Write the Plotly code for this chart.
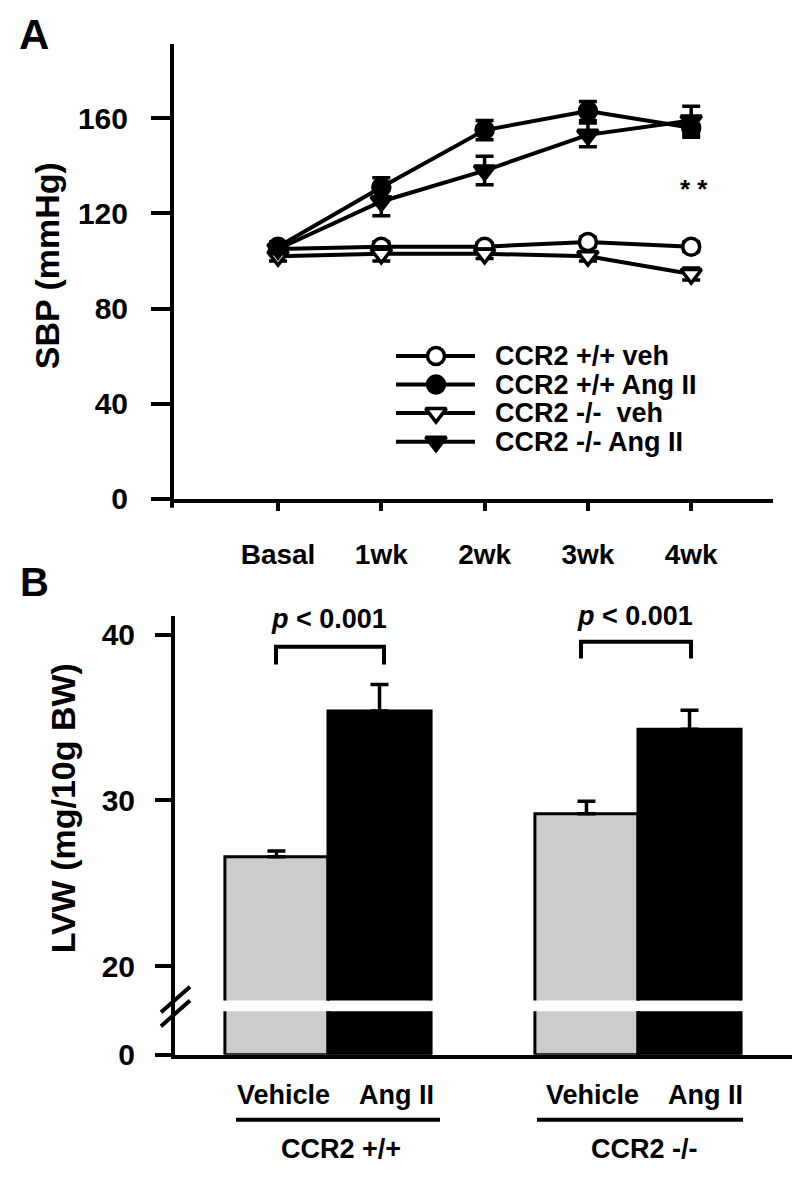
import plotly.graph_objects as go

W, H = 800, 1183
FONT = "Liberation Sans, Arial, Helvetica, sans-serif"

# ---------------- data: panel A (SBP, mmHg) ----------------
timepoints = ["Basal", "1wk", "2wk", "3wk", "4wk"]
series_names = ["CCR2 +/+ veh", "CCR2 +/+ Ang II", "CCR2 -/-  veh", "CCR2 -/- Ang II"]
sbp_wt_veh = [105, 106, 106, 108, 106]
sbp_wt_veh_err = [2, 2, 1.5, 2, 2]
sbp_wt_ang = [106, 131, 155, 163, 156]
sbp_wt_ang_err = [2, 4, 4, 4, 4]
sbp_ko_veh = [102, 103, 103, 102, 94.5]
sbp_ko_veh_err = [2, 3, 2, 2, 2.5]
sbp_ko_ang = [105, 125, 138, 153, 159]
sbp_ko_ang_err = [2, 6, 6, 5, 6]
sbp_ticks = [0, 40, 80, 120, 160]

# ---------------- data: panel B (LVW, mg/10g BW) ----------------
genotypes = ["CCR2 +/+", "CCR2 -/-"]
treatments = ["Vehicle", "Ang II"]
lvw_vehicle = [26.6, 29.2]
lvw_vehicle_err = [0.35, 0.75]
lvw_angii = [35.4, 34.3]
lvw_angii_err = [1.6, 1.15]
lvw_ticks = [20, 30, 40]
p_labels = ["p < 0.001", "p < 0.001"]


def fx(px):
    return px / W


def fy(py):
    return 1 - py / H


BOLD = dict(family=FONT, color="black", weight="bold")
fig = go.Figure()

# ---------------- panel A traces ----------------
styles = [
    dict(symbol="circle", color="white", size=17),
    dict(symbol="circle", color="black", size=17),
    dict(symbol="triangle-down", color="white", size=18),
    dict(symbol="triangle-down", color="black", size=18),
]
vals = [sbp_wt_veh, sbp_wt_ang, sbp_ko_veh, sbp_ko_ang]
errs = [sbp_wt_veh_err, sbp_wt_ang_err, sbp_ko_veh_err, sbp_ko_ang_err]
for name, v, e, st in zip(series_names, vals, errs, styles):
    fig.add_trace(go.Scatter(
        x=timepoints, y=v, name=name, mode="lines+markers",
        line=dict(color="black", width=4),
        marker=dict(symbol=st["symbol"], color=st["color"], size=st["size"],
                    line=dict(color="black", width=3.5)),
        error_y=dict(type="data", array=e, color="black", thickness=3.5, width=9),
        xaxis="x", yaxis="y", showlegend=False, cliponaxis=False,
    ))

# manual legend (pixel overlay axis)
legend_rows = [353, 382, 411, 440]
for name, st, ry in zip(series_names, styles, legend_rows):
    fig.add_trace(go.Scatter(
        x=[388, 467], y=[ry, ry], mode="lines", line=dict(color="black", width=4),
        xaxis="x4", yaxis="y4", showlegend=False, hoverinfo="skip"))
    fig.add_trace(go.Scatter(
        x=[428], y=[ry], mode="markers",
        marker=dict(symbol=st["symbol"], color=st["color"], size=st["size"],
                    line=dict(color="black", width=3.5)),
        xaxis="x4", yaxis="y4", showlegend=False, hoverinfo="skip"))

# ---------------- panel B traces ----------------
bar_colors = ["#cccccc", "black"]
bar_vals = [lvw_vehicle, lvw_angii]
bar_errs = [lvw_vehicle_err, lvw_angii_err]
for tname, col, v, e in zip(treatments, bar_colors, bar_vals, bar_errs):
    for xa, ya, with_err in (("x2", "y2", True), ("x3", "y3", False)):
        fig.add_trace(go.Bar(
            x=genotypes, y=v, name=tname, offsetgroup=tname,
            marker=dict(color=col, line=dict(color="black", width=3)),
            error_y=dict(type="data", array=e, arrayminus=[0] * len(e), symmetric=False,
                         color="black", thickness=3.5, width=9, visible=with_err),
            xaxis=xa, yaxis=ya, showlegend=False,
        ))

axis_common = dict(showgrid=False, zeroline=False, linecolor="black", linewidth=4,
                   tickcolor="black", tickwidth=4, mirror=False)

fig.update_layout(
    width=W, height=H,
    margin=dict(l=0, r=0, t=0, b=0),
    paper_bgcolor="white", plot_bgcolor="rgba(0,0,0,0)",
    font=BOLD,
    barmode="group", bargap=0.335, bargroupgap=0,
    xaxis=dict(domain=[fx(166), fx(765)], anchor="y", type="category",
               range=[-1.007, 4.792], showline=True, ticks="outside", ticklen=8,
               tickfont=dict(size=28, **BOLD), ticklabelstandoff=20, **axis_common),
    yaxis=dict(domain=[fy(498), fy(37)], anchor="x", range=[0, 191],
               tickvals=sbp_ticks, showline=True, ticks="outside", ticklen=19,
               tickfont=dict(size=30, **BOLD), ticklabelstandoff=17, **axis_common),
    xaxis2=dict(domain=[fx(167), fx(785)], anchor="y2", type="category",
                range=[-0.4935, 1.5], showline=False, showticklabels=False, ticks="",
                **axis_common),
    yaxis2=dict(domain=[fy(1007), fy(617)], anchor="x2", range=[17.917, 41.13],
                tickvals=lvw_ticks, showline=True, ticks="outside", ticklen=16,
                tickfont=dict(size=30, **BOLD), ticklabelstandoff=14, **axis_common),
    xaxis3=dict(domain=[fx(167), fx(785)], anchor="y3", type="category",
                range=[-0.4935, 1.5], showline=True, showticklabels=False, ticks="",
                **axis_common),
    yaxis3=dict(domain=[fy(1062), fy(1018)], anchor="x3", range=[0, 2.6],
                tickvals=[0], showline=True, ticks="outside", ticklen=16,
                tickfont=dict(size=30, **BOLD), ticklabelstandoff=14, **axis_common),
    xaxis4=dict(domain=[0, 1], anchor="y4", range=[0, W], visible=False, fixedrange=True),
    yaxis4=dict(domain=[0, 1], anchor="x4", range=[H, 0], visible=False, fixedrange=True),
)

ann = []
# panel letters
ann.append(dict(text="A", x=fx(26), y=fy(27), font=dict(size=42, **BOLD)))
ann.append(dict(text="B", x=fx(26), y=fy(582), font=dict(size=40, **BOLD)))
# axis titles
ann.append(dict(text="SBP (mmHg)", x=fx(39), y=fy(262), textangle=-90, font=dict(size=34, **BOLD)))
ann.append(dict(text="LVW (mg/10g BW)", x=fx(55), y=fy(812), textangle=-90, font=dict(size=34, **BOLD)))
# legend text
for name, ry in zip(series_names, legend_rows):
    ann.append(dict(text=name.replace("  ", "&nbsp; "), x=fx(485), y=fy(ry), xanchor="left",
                    font=dict(size=27, **BOLD)))
# significance stars
ann.append(dict(text="* *", x=fx(686), y=fy(184), font=dict(size=26, **BOLD)))
# p-values
for txt, cx, cy in zip(p_labels, [321, 627], [620, 617]):
    ann.append(dict(text="<i>p</i>" + txt[1:], x=fx(cx), y=fy(cy), font=dict(size=27, **BOLD)))
# bottom labels
for cx, t in zip([275, 388, 584, 697], treatments * 2):
    ann.append(dict(text=t, x=fx(cx), y=fy(1103), font=dict(size=27, **BOLD)))
for cx, g in zip([333, 636], genotypes):
    ann.append(dict(text=g, x=fx(cx), y=fy(1158), font=dict(size=27, **BOLD)))
for a in ann:
    a.update(xref="paper", yref="paper", showarrow=False)
    a.setdefault("xanchor", "center")
    a.setdefault("yanchor", "middle")
fig.update_layout(annotations=ann)

shapes = []
line_k = dict(color="black", width=4)
# brackets
for x0, x1, ytop, ybot in [(268, 376, 648, 666), (573, 683, 643, 660)]:
    shapes.append(dict(type="path", path=f"M {fx(x0)},{fy(ybot)} L {fx(x0)},{fy(ytop)} L {fx(x1)},{fy(ytop)} L {fx(x1)},{fy(ybot)}",
                       line=line_k))
# underlines
for x0, x1 in [(228, 432), (529, 735)]:
    shapes.append(dict(type="line", x0=fx(x0), x1=fx(x1), y0=fy(1128), y1=fy(1128), line=line_k))
# y-axis continuity across the break and break marks
shapes.append(dict(type="line", x0=fx(167) - 2 / W, x1=fx(167) - 2 / W, y0=fy(1007), y1=fy(1018), line=line_k))
for dy in (0, 14):
    shapes.append(dict(type="line", x0=fx(153), y0=fy(1019 + dy), x1=fx(182), y1=fy(993 + dy), line=line_k))
# extra tick below panel A origin
shapes.append(dict(type="line", x0=fx(166) - 2 / W, x1=fx(166) - 2 / W, y0=fy(498), y1=fy(507), line=line_k))
for s in shapes:
    s.update(xref="paper", yref="paper")
fig.update_layout(shapes=shapes)

fig.write_html("out.html")
